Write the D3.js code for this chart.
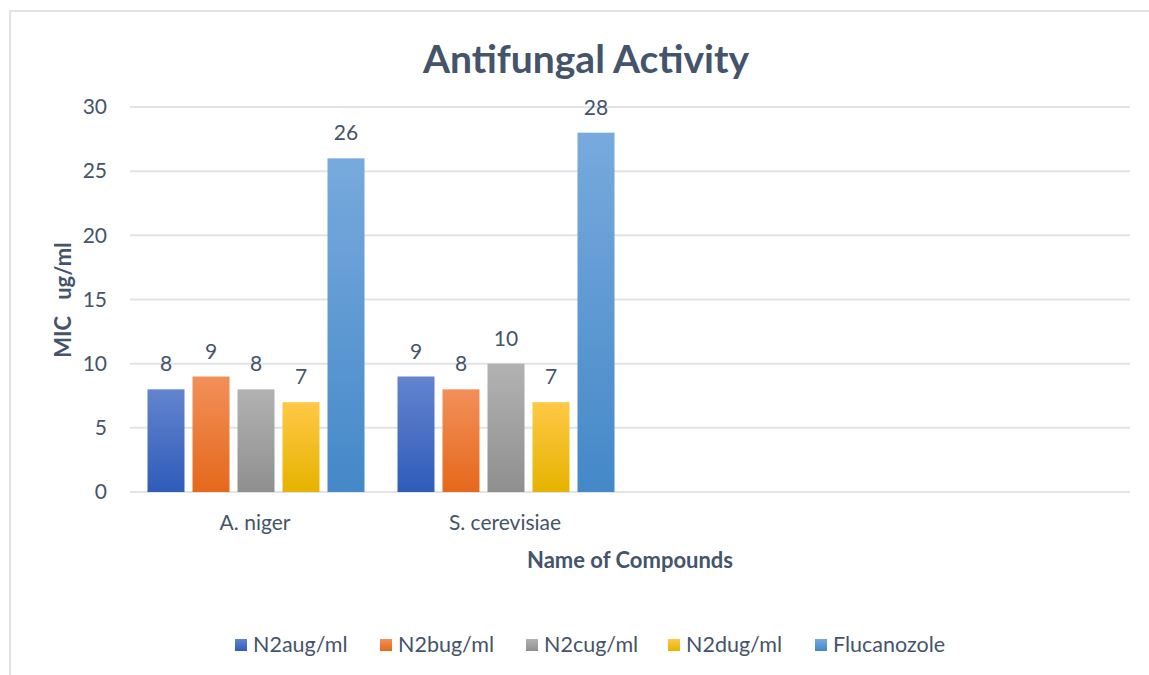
<!DOCTYPE html>
<html>
<head>
<meta charset="utf-8">
<script src="https://cdn.jsdelivr.net/npm/d3@7"></script>
<style>
  html, body { margin: 0; padding: 0; background: #fff; }
  svg { display: block; font-family: Lato, "Open Sans", sans-serif; }
</style>
</head>
<body>
<div id="chart"></div>
<script>
// data
const categories = ["A. niger", "S. cerevisiae", "", " "];
const seriesNames = ["N2aug/ml", "N2bug/ml", "N2cug/ml", "N2dug/ml", "Flucanozole"];
const aNiger = [8, 9, 8, 7, 26];
const sCerevisiae = [9, 8, 10, 7, 28];
const yTicks = [0, 5, 10, 15, 20, 25, 30];

const seriesColors = [
  ["#6384cf", "#2f5cb9"],
  ["#f29059", "#e5681b"],
  ["#b2b2b2", "#8f8f8f"],
  ["#ffc846", "#e6b300"],
  ["#78aadd", "#4488c8"]
];

const rows = [
  {cat: categories[0], values: aNiger},
  {cat: categories[1], values: sCerevisiae}
];

const W = 1149, H = 675;
const textColor = "#44546a";
const gridColor = "#dfe3ea";

const svg = d3.select("#chart").append("svg")
  .attr("width", W)
  .attr("height", H);

// gradients for bars
const defs = svg.append("defs");
seriesColors.forEach((c, i) => {
  const g = defs.append("linearGradient")
    .attr("id", "grad" + i)
    .attr("x1", 0).attr("y1", 0).attr("x2", 0).attr("y2", 1);
  g.append("stop").attr("offset", "0%").attr("stop-color", c[0]);
  g.append("stop").attr("offset", "100%").attr("stop-color", c[1]);
});

// chart border
svg.append("rect")
  .attr("x", 10).attr("y", 11)
  .attr("width", W + 20).attr("height", H + 20)
  .attr("fill", "none")
  .attr("stroke", gridColor)
  .attr("stroke-width", 2);

const plot = {left: 130, right: 1130, top: 107, bottom: 492};

const x0 = d3.scaleBand()
  .domain(categories)
  .range([plot.left, plot.right]);

const x1 = d3.scaleBand()
  .domain(seriesNames)
  .range([17.5, x0.bandwidth() - 15.5])
  .paddingInner(8 / 45);

const y = d3.scaleLinear()
  .domain([0, 30])
  .range([plot.bottom, plot.top]);

// gridlines
svg.append("g")
  .selectAll("line")
  .data(yTicks)
  .join("line")
  .attr("x1", plot.left).attr("x2", plot.right)
  .attr("y1", d => y(d)).attr("y2", d => y(d))
  .attr("stroke", gridColor)
  .attr("stroke-width", 2);

// y axis labels
const yAxis = svg.append("g")
  .attr("transform", `translate(${plot.left}, 0)`)
  .call(d3.axisLeft(y).tickValues(yTicks).tickSize(0).tickPadding(23));
yAxis.select(".domain").remove();
yAxis.selectAll("text")
  .attr("fill", textColor)
  .style("font-size", "21px")
  .style("font-family", "Lato, sans-serif");

// x axis labels
const xAxis = svg.append("g")
  .attr("transform", `translate(0, ${plot.bottom})`)
  .call(d3.axisBottom(x0).tickSize(0).tickPadding(23));
xAxis.select(".domain").remove();
xAxis.selectAll("text")
  .attr("fill", textColor)
  .style("font-size", "21px")
  .style("font-family", "Lato, sans-serif");

// bars
const groups = svg.append("g")
  .selectAll("g")
  .data(rows)
  .join("g")
  .attr("transform", d => `translate(${x0(d.cat)}, 0)`);

groups.selectAll("rect")
  .data(d => d.values.map((v, i) => ({key: seriesNames[i], value: v, i: i})))
  .join("rect")
  .attr("x", d => x1(d.key))
  .attr("y", d => y(d.value))
  .attr("width", x1.bandwidth())
  .attr("height", d => y(0) - y(d.value))
  .attr("fill", d => `url(#grad${d.i})`);

groups.selectAll("text")
  .data(d => d.values.map((v, i) => ({key: seriesNames[i], value: v})))
  .join("text")
  .attr("x", d => x1(d.key) + x1.bandwidth() / 2)
  .attr("y", d => y(d.value) - 18)
  .attr("text-anchor", "middle")
  .attr("fill", textColor)
  .style("font-size", "21px")
  .text(d => d.value);

// title
svg.append("text")
  .attr("x", 586).attr("y", 73)
  .attr("text-anchor", "middle")
  .attr("fill", textColor)
  .style("font-size", "39px")
  .style("font-weight", "bold")
  .text("Antifungal Activity");

// axis titles
svg.append("text")
  .attr("x", 630).attr("y", 568)
  .attr("text-anchor", "middle")
  .attr("fill", textColor)
  .style("font-size", "22px")
  .style("font-weight", "bold")
  .text("Name of Compounds");

svg.append("text")
  .attr("transform", "translate(71, 300) rotate(-90)")
  .attr("text-anchor", "middle")
  .attr("fill", textColor)
  .style("font-size", "22px")
  .style("font-weight", "bold")
  .style("white-space", "pre")
  .text("MIC   ug/ml");

// legend
const legendX = [235, 380, 526, 668, 815];
const legend = svg.append("g")
  .selectAll("g")
  .data(seriesNames)
  .join("g")
  .attr("transform", (d, i) => `translate(${legendX[i]}, 639)`);

legend.append("rect")
  .attr("width", 12).attr("height", 12)
  .attr("fill", (d, i) => `url(#grad${i})`);

legend.append("text")
  .attr("x", 18).attr("y", 12.5)
  .attr("fill", textColor)
  .style("font-size", "21.5px")
  .text(d => d);
</script>
</body>
</html>
